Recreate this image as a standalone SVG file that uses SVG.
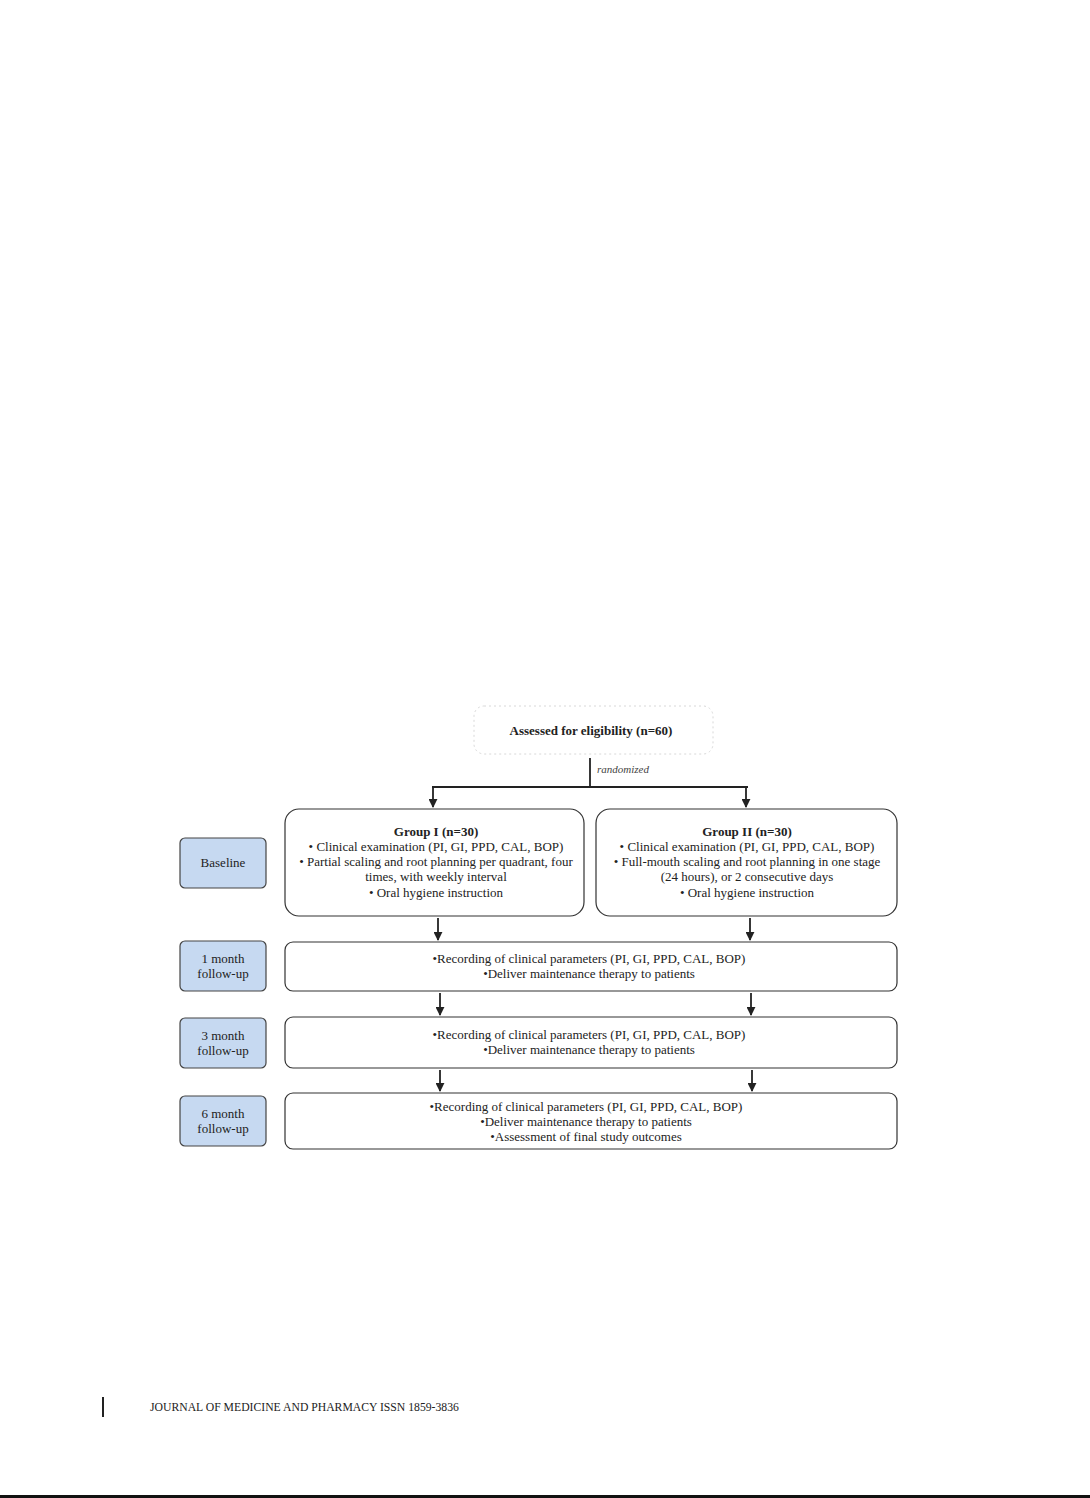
<svg xmlns="http://www.w3.org/2000/svg" width="1090" height="1498" viewBox="0 0 1090 1498">
<style>
.t{font-family:"Liberation Serif","Times New Roman",serif;font-size:13px;fill:#222;text-anchor:middle}
.b{font-weight:bold}
.box{fill:#fff;stroke:#333;stroke-width:1.2}
.lab{fill:#c6d9f1;stroke:#444;stroke-width:1.2}
.ln{stroke:#222;stroke-width:1.8;fill:none}
.ft{font-family:"Liberation Serif","Times New Roman",serif;font-size:11.7px;fill:#222}
</style>
<defs>
<marker id="ah" viewBox="0 0 10 10" refX="9" refY="5" markerWidth="5" markerHeight="5" orient="auto"><path d="M0,0L10,5L0,10z" fill="#222"/></marker>
</defs>
<rect width="1090" height="1498" fill="#fff"/>
<g id="assessed">
<rect x="474" y="706" width="239" height="48" rx="10" fill="#fff" stroke="#d8d8d8" stroke-width="1" stroke-dasharray="2,3"/>
<text class="t b" x="591" y="735">Assessed for eligibility (n=60)</text>
</g>
<g id="groupI">
<rect class="box" x="285" y="809" width="299" height="107" rx="14"/>
<text class="t b" x="436" y="836">Group I (n=30)</text>
<text class="t" x="436" y="851">• Clinical examination (PI, GI, PPD, CAL, BOP)</text>
<text class="t" x="436" y="866">• Partial scaling and root planning per quadrant, four</text>
<text class="t" x="436" y="881">times, with weekly interval</text>
<text class="t" x="436" y="897">• Oral hygiene instruction</text>
</g>
<g id="groupII">
<rect class="box" x="596" y="809" width="301" height="107" rx="14"/>
<text class="t b" x="747" y="836">Group II (n=30)</text>
<text class="t" x="747" y="851">• Clinical examination (PI, GI, PPD, CAL, BOP)</text>
<text class="t" x="747" y="866">• Full-mouth scaling and root planning in one stage</text>
<text class="t" x="747" y="881">(24 hours), or 2 consecutive days</text>
<text class="t" x="747" y="897">• Oral hygiene instruction</text>
</g>
<g id="baseline">
<rect class="lab" x="180" y="838" width="86" height="50" rx="5"/>
<text class="t" x="223" y="867">Baseline</text>
</g>
<g id="m1">
<rect class="lab" x="180" y="941" width="86" height="50" rx="5"/>
<text class="t" x="223" y="963">1 month</text>
<text class="t" x="223" y="978">follow-up</text>
</g>
<g id="m3">
<rect class="lab" x="180" y="1018" width="86" height="50" rx="5"/>
<text class="t" x="223" y="1040">3 month</text>
<text class="t" x="223" y="1055">follow-up</text>
</g>
<g id="m6">
<rect class="lab" x="180" y="1096" width="86" height="50" rx="5"/>
<text class="t" x="223" y="1118">6 month</text>
<text class="t" x="223" y="1133">follow-up</text>
</g>
<g id="row1">
<rect class="box" x="285" y="942" width="612" height="49" rx="8"/>
<text class="t" x="589" y="963">•Recording of clinical parameters (PI, GI, PPD, CAL, BOP)</text>
<text class="t" x="589" y="978">•Deliver maintenance therapy to patients</text>
</g>
<g id="row2">
<rect class="box" x="285" y="1017" width="612" height="51" rx="8"/>
<text class="t" x="589" y="1039">•Recording of clinical parameters (PI, GI, PPD, CAL, BOP)</text>
<text class="t" x="589" y="1054">•Deliver maintenance therapy to patients</text>
</g>
<g id="row3">
<rect class="box" x="285" y="1093" width="612" height="56" rx="8"/>
<text class="t" x="586" y="1111">•Recording of clinical parameters (PI, GI, PPD, CAL, BOP)</text>
<text class="t" x="586" y="1126">•Deliver maintenance therapy to patients</text>
<text class="t" x="586" y="1141">•Assessment of final study outcomes</text>
</g>
<g id="connectors">
<line class="ln" x1="590" y1="758" x2="590" y2="787"/>
<text x="597" y="773" style="font-family:'Liberation Serif',serif;font-size:11px;font-style:italic;fill:#444">randomized</text>
<line class="ln" x1="432" y1="787" x2="748" y2="787"/>
<line class="ln" x1="433" y1="787" x2="433" y2="807" marker-end="url(#ah)"/>
<line class="ln" x1="746" y1="787" x2="746" y2="807" marker-end="url(#ah)"/>
<line class="ln" x1="438" y1="918" x2="438" y2="940" marker-end="url(#ah)"/>
<line class="ln" x1="750" y1="918" x2="750" y2="940" marker-end="url(#ah)"/>
<line class="ln" x1="440" y1="993" x2="440" y2="1015" marker-end="url(#ah)"/>
<line class="ln" x1="751" y1="993" x2="751" y2="1015" marker-end="url(#ah)"/>
<line class="ln" x1="440" y1="1070" x2="440" y2="1091" marker-end="url(#ah)"/>
<line class="ln" x1="752" y1="1070" x2="752" y2="1091" marker-end="url(#ah)"/>
</g>
<rect x="102" y="1397" width="2" height="20" fill="#222"/>
<text class="ft" x="150" y="1411">JOURNAL OF MEDICINE AND PHARMACY ISSN 1859-3836</text>
<rect x="0" y="1495" width="1090" height="3" fill="#111"/>
</svg>
